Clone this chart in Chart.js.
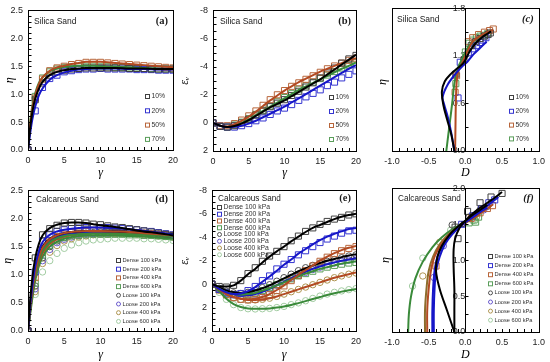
<!DOCTYPE html>
<html><head><meta charset="utf-8">
<script src="https://cdn.jsdelivr.net/npm/chart.js@4.4.1/dist/chart.umd.min.js"></script>
<style>
html,body{margin:0;padding:0;background:#fff;width:550px;height:362px;overflow:hidden;}
canvas{position:absolute;}
</style></head><body>
<canvas id="pa"></canvas><canvas id="pb"></canvas><canvas id="pc"></canvas>
<canvas id="pd"></canvas><canvas id="pe"></canvas><canvas id="pf"></canvas>
<script>
// ---------------- DATA ----------------
const silicaLabels = ['10%', '20%', '50%', '70%'];
const calcLabels = ['Dense 100 kPa','Dense 200 kPa','Dense 400 kPa','Dense 600 kPa','Loose 100 kPa','Loose 200 kPa','Loose 400 kPa','Loose 600 kPa'];
const gammaPts = [0,1,2,3,4,5,6,7,8,9,10,11,12,13,14,15,16,17,18,19,20];

// (a) eta vs gamma, silica
const aGammaLine = [0,0.3,0.6,1,1.5,2,3,4,5,6,7,8,9,10,12,14,16,18,20];
const aLine10 = [0,0.4,0.68,0.92,1.1,1.22,1.34,1.4,1.43,1.45,1.46,1.47,1.47,1.47,1.47,1.46,1.46,1.45,1.45];
const aLine20 = [0,0.3,0.55,0.78,0.98,1.1,1.26,1.34,1.39,1.42,1.44,1.45,1.46,1.46,1.46,1.45,1.45,1.44,1.44];
const aLine50 = [0,0.45,0.75,0.98,1.18,1.3,1.42,1.48,1.51,1.54,1.56,1.58,1.58,1.58,1.56,1.54,1.52,1.5,1.48];
const aLine70 = [0,0.5,0.8,1.02,1.2,1.3,1.41,1.46,1.49,1.5,1.51,1.51,1.51,1.5,1.49,1.48,1.47,1.46,1.45];
const aPts10 = [0,0.9,1.2,1.34,1.4,1.43,1.45,1.46,1.47,1.47,1.47,1.47,1.47,1.47,1.46,1.46,1.46,1.45,1.45,1.45,1.45];
const aPts20 = [0,0.7,1.12,1.28,1.34,1.4,1.42,1.44,1.45,1.45,1.46,1.45,1.45,1.45,1.45,1.44,1.44,1.44,1.43,1.43,1.43];
const aPts50 = [0,0.93,1.27,1.42,1.47,1.5,1.53,1.55,1.57,1.57,1.57,1.56,1.55,1.54,1.53,1.52,1.51,1.5,1.49,1.48,1.47];
const aPts70 = [0,0.96,1.29,1.4,1.45,1.48,1.49,1.5,1.5,1.5,1.49,1.49,1.48,1.48,1.47,1.47,1.46,1.46,1.45,1.45,1.45];

// (b) volumetric strain vs gamma, silica
const bLine10 = [0,0.2,0.3,0.22,0.05,-0.2,-0.5,-0.8,-1.1,-1.35,-1.6,-1.9,-2.2,-2.5,-2.8,-3.1,-3.45,-3.8,-4.15,-4.5,-4.85];
const bLine20 = [0,0.2,0.3,0.28,0.2,0.05,-0.15,-0.4,-0.65,-0.9,-1.15,-1.45,-1.75,-2.05,-2.35,-2.65,-2.95,-3.25,-3.55,-3.85,-4.1];
const bLine50 = [0,0.2,0.25,0.1,-0.15,-0.45,-0.8,-1.2,-1.6,-1.95,-2.3,-2.6,-2.9,-3.15,-3.4,-3.65,-3.85,-4.05,-4.25,-4.45,-4.6];
const bLine70 = [0,0.2,0.3,0.2,0,-0.25,-0.55,-0.85,-1.15,-1.45,-1.75,-2.05,-2.35,-2.6,-2.85,-3.1,-3.35,-3.6,-3.85,-4.05,-4.3];
const bPts10 = [0,0.25,0.3,0.2,0,-0.25,-0.55,-0.85,-1.15,-1.4,-1.65,-1.95,-2.25,-2.55,-2.85,-3.2,-3.55,-3.9,-4.25,-4.55,-4.8];
const bPts20 = [0,0.25,0.3,0.3,0.2,0.05,-0.15,-0.35,-0.6,-0.85,-1.05,-1.3,-1.6,-1.85,-2.1,-2.35,-2.65,-2.9,-3.2,-3.45,-3.7];
const bPts50 = [0,0.2,0.2,0.05,-0.2,-0.5,-0.85,-1.25,-1.65,-2,-2.3,-2.6,-2.85,-3.1,-3.35,-3.6,-3.85,-4.05,-4.25,-4.45,-4.6];
const bPts70 = [0,0.25,0.3,0.15,-0.05,-0.3,-0.6,-0.9,-1.2,-1.5,-1.8,-2.1,-2.4,-2.65,-2.9,-3.15,-3.4,-3.65,-3.9,-4.1,-4.3];

// (c) eta vs D, silica
const cLine10D = [-0.15,-0.19,-0.25,-0.3,-0.32,-0.28,-0.2,-0.1,-0.02,0.06,0.14,0.22,0.3,0.35];
const cLine10E = [0,0.2,0.4,0.58,0.75,0.88,0.97,1.05,1.12,1.26,1.36,1.43,1.48,1.51];
const cLine20D = [-0.15,-0.19,-0.24,-0.29,-0.31,-0.24,-0.12,-0.03,0.03,0.11,0.2,0.29];
const cLine20E = [0,0.22,0.43,0.59,0.68,0.84,0.99,1.08,1.13,1.22,1.3,1.38];
const cLine50D = [-0.14,-0.135,-0.13,-0.12,-0.1,-0.05,0,0.05,0.1,0.2,0.3,0.38];
const cLine50E = [0,0.3,0.6,0.85,1.0,1.1,1.2,1.3,1.38,1.45,1.5,1.53];
const cLine70D = [-0.26,-0.22,-0.18,-0.15,-0.1,-0.05,0,0.05,0.1,0.2,0.3];
const cLine70E = [0,0.3,0.6,0.85,1.05,1.15,1.25,1.33,1.38,1.44,1.48];
const cPts10D = [-0.13,-0.02,0.08,0.14,0.2,0.26,0.31,0.34];
const cPts10E = [0.97,1.15,1.33,1.38,1.42,1.45,1.47,1.49];
const cPts20D = [-0.1,-0.07,0.04,0.1,0.15,0.2,0.24,0.28];
const cPts20E = [0.67,1.12,1.24,1.29,1.33,1.37,1.4,1.43];
const cPts50D = [-0.14,-0.12,0.04,0.1,0.18,0.26,0.33,0.38];
const cPts50E = [0.74,0.95,1.38,1.43,1.47,1.5,1.52,1.54];
const cPts70D = [-0.13,0,0.05,0.1,0.15,0.2,0.25,0.3];
const cPts70E = [0.85,1.25,1.36,1.4,1.43,1.45,1.46,1.48];

// (d) eta vs gamma, calcareous
const dGammaLine = [0,0.3,0.6,1,1.5,2,3,4,5,6,7,8,9,10,12,14,16,18,20];
const dLineD100 = [0,0.55,0.95,1.3,1.55,1.7,1.83,1.89,1.92,1.93,1.93,1.92,1.9,1.88,1.85,1.81,1.77,1.74,1.7];
const dLineD200 = [0,0.45,0.8,1.15,1.42,1.58,1.71,1.77,1.8,1.82,1.83,1.84,1.84,1.84,1.83,1.81,1.78,1.75,1.71];
const dLineD400 = [0,0.4,0.72,1.05,1.32,1.48,1.63,1.7,1.74,1.76,1.77,1.78,1.78,1.78,1.77,1.76,1.74,1.72,1.7];
const dLineD600 = [0,0.35,0.65,0.98,1.25,1.42,1.58,1.65,1.69,1.71,1.72,1.73,1.73,1.73,1.73,1.72,1.71,1.7,1.68];
const dLineL100 = [0,0.4,0.75,1.1,1.35,1.5,1.64,1.7,1.74,1.76,1.77,1.78,1.78,1.78,1.77,1.76,1.75,1.73,1.72];
const dLineL200 = [0,0.38,0.7,1.02,1.28,1.44,1.6,1.67,1.71,1.73,1.75,1.76,1.77,1.77,1.77,1.76,1.75,1.73,1.71];
const dLineL400 = [0,0.35,0.65,0.97,1.22,1.38,1.55,1.63,1.68,1.71,1.73,1.74,1.75,1.75,1.75,1.74,1.73,1.71,1.69];
const dLineL600 = [0,0.3,0.58,0.9,1.15,1.32,1.5,1.59,1.64,1.67,1.69,1.7,1.7,1.7,1.7,1.69,1.68,1.66,1.64];
const dPtsD100 = [0,1.3,1.71,1.82,1.88,1.92,1.93,1.93,1.92,1.9,1.89,1.87,1.85,1.84,1.82,1.8,1.78,1.76,1.74,1.72,1.7];
const dPtsD200 = [0,1.05,1.6,1.72,1.77,1.8,1.82,1.83,1.84,1.84,1.84,1.84,1.83,1.82,1.81,1.8,1.78,1.77,1.75,1.73,1.71];
const dPtsD400 = [0,0.95,1.45,1.6,1.68,1.72,1.75,1.76,1.77,1.78,1.78,1.78,1.77,1.77,1.76,1.75,1.74,1.73,1.72,1.71,1.7];
const dPtsD600 = [0,0.85,1.35,1.52,1.62,1.66,1.69,1.7,1.71,1.72,1.72,1.72,1.72,1.72,1.71,1.71,1.7,1.7,1.69,1.68,1.67];
const dPtsL100 = [0,0.8,1.3,1.5,1.6,1.66,1.7,1.72,1.74,1.75,1.76,1.76,1.76,1.76,1.75,1.75,1.74,1.73,1.72,1.71,1.7];
const dPtsL200 = [0,0.75,1.25,1.45,1.57,1.63,1.67,1.7,1.72,1.73,1.74,1.74,1.75,1.75,1.74,1.74,1.73,1.72,1.71,1.7,1.69];
const dPtsL400 = [0,0.7,1.2,1.4,1.52,1.6,1.64,1.67,1.69,1.71,1.72,1.72,1.73,1.73,1.73,1.72,1.71,1.7,1.69,1.68,1.67];
const dPtsL600 = [0,0.65,1.05,1.25,1.38,1.47,1.53,1.57,1.6,1.62,1.63,1.64,1.65,1.65,1.65,1.65,1.64,1.64,1.63,1.62,1.61];

// (e) volumetric strain vs gamma, calcareous
const eLineD100 = [0,0.2,0.2,0.1,-0.3,-0.85,-1.3,-1.85,-2.35,-2.8,-3.2,-3.65,-4.05,-4.45,-4.8,-5.05,-5.3,-5.55,-5.75,-5.9,-6.0];
const eLineD200 = [0,0.4,0.7,0.85,0.8,0.6,0.25,-0.2,-0.65,-1.15,-1.65,-2.1,-2.6,-3.0,-3.4,-3.75,-4.05,-4.3,-4.5,-4.7,-4.8];
const eLineD400 = [0,0.45,0.85,1.1,1.25,1.3,1.25,1.1,0.85,0.5,0.1,-0.35,-0.8,-1.2,-1.6,-2.0,-2.35,-2.65,-2.9,-3.1,-3.25];
const eLineD600 = [0,0.4,0.7,0.85,0.9,0.85,0.75,0.55,0.35,0.1,-0.15,-0.4,-0.65,-0.9,-1.1,-1.3,-1.45,-1.6,-1.75,-1.85,-1.95];
const eLineL100 = [0,0.3,0.55,0.7,0.75,0.7,0.55,0.35,0.1,-0.2,-0.5,-0.8,-1.1,-1.35,-1.6,-1.8,-2.0,-2.15,-2.3,-2.45,-2.55];
const eLineL200 = [0,0.35,0.65,0.85,0.95,0.95,0.85,0.65,0.4,0.1,-0.2,-0.5,-0.8,-1.05,-1.3,-1.5,-1.7,-1.85,-2.0,-2.1,-2.2];
const eLineL400 = [0,0.45,0.85,1.1,1.25,1.35,1.35,1.3,1.2,1.05,0.85,0.65,0.45,0.25,0.05,-0.15,-0.35,-0.55,-0.7,-0.85,-1.0];
const eLineL600 = [0,0.6,1.25,1.7,1.95,2.07,2.1,2.1,2.07,2.0,1.9,1.78,1.62,1.45,1.27,1.1,0.93,0.78,0.64,0.52,0.42];
const ePtsD100 = [0,0.2,0.25,0.1,-0.3,-0.9,-1.4,-1.95,-2.4,-2.8,-3.2,-3.7,-4.1,-4.5,-4.8,-5.1,-5.35,-5.55,-5.7,-5.9,-6.0];
const ePtsD200 = [0,0.45,0.75,0.9,0.8,0.55,0.2,-0.3,-0.7,-1.3,-1.7,-2.1,-2.5,-2.85,-3.2,-3.55,-3.85,-4.1,-4.35,-4.55,-4.6];
const ePtsD400 = [0,0.5,0.9,1.15,1.3,1.35,1.3,1.15,0.9,0.55,0.15,-0.3,-0.75,-1.15,-1.55,-1.95,-2.3,-2.6,-2.85,-3.05,-3.2];
const ePtsD600 = [0,0.45,0.75,0.9,0.95,0.9,0.75,0.55,0.3,0.05,-0.2,-0.45,-0.7,-0.9,-1.1,-1.3,-1.45,-1.6,-1.7,-1.8,-1.85];
const ePtsL100 = [0,0.35,0.6,0.75,0.8,0.7,0.55,0.3,0.05,-0.25,-0.55,-0.85,-1.15,-1.4,-1.6,-1.8,-1.95,-2.1,-2.25,-2.4,-2.5];
const ePtsL200 = [0,0.4,0.7,0.9,1.0,1.0,0.85,0.65,0.4,0.1,-0.2,-0.5,-0.75,-1.0,-1.25,-1.45,-1.65,-1.8,-1.95,-2.05,-2.15];
const ePtsL400 = [0,0.5,0.9,1.15,1.3,1.35,1.35,1.3,1.2,1.05,0.85,0.65,0.45,0.25,0.05,-0.15,-0.35,-0.55,-0.7,-0.85,-0.95];
const ePtsL600 = [0,0.7,1.3,1.75,2.0,2.1,2.12,2.1,2.07,2.0,1.9,1.75,1.6,1.42,1.22,1.02,0.85,0.7,0.58,0.47,0.38];

// (f) eta vs D, calcareous
const fLineD100D = [-0.15,-0.15,-0.15,-0.16,-0.16,-0.14,-0.08,0,0.1,0.2,0.3,0.4,0.5];
const fLineD100E = [0,0.3,0.6,0.9,1.15,1.3,1.45,1.55,1.65,1.73,1.8,1.87,1.95];
const fLineL100D = [-0.15,-0.25,-0.35,-0.4,-0.38,-0.32,-0.22,-0.1,0,0.1,0.2,0.3];
const fLineL100E = [0,0.3,0.6,0.85,1.05,1.2,1.35,1.47,1.55,1.63,1.7,1.77];
const fLineD200D = [-0.45,-0.45,-0.44,-0.42,-0.38,-0.3,-0.2,-0.1,0,0.1,0.2,0.3,0.4,0.45];
const fLineD200E = [0,0.3,0.6,0.85,1.05,1.22,1.35,1.45,1.53,1.6,1.68,1.76,1.84,1.88];
const fLineL200D = [-0.43,-0.43,-0.42,-0.4,-0.35,-0.28,-0.18,-0.08,0,0.1,0.2,0.3];
const fLineL200E = [0,0.3,0.6,0.85,1.05,1.22,1.36,1.46,1.53,1.6,1.67,1.73];
const fLineD400D = [-0.52,-0.52,-0.5,-0.47,-0.42,-0.33,-0.22,-0.1,0,0.1,0.2,0.3,0.38];
const fLineD400E = [0,0.3,0.6,0.85,1.05,1.22,1.35,1.45,1.52,1.58,1.65,1.72,1.78];
const fLineL400D = [-0.55,-0.55,-0.53,-0.5,-0.44,-0.35,-0.24,-0.12,0,0.1,0.2];
const fLineL400E = [0,0.3,0.6,0.85,1.05,1.22,1.35,1.45,1.52,1.58,1.63];
const fLineD600D = [-0.78,-0.77,-0.74,-0.68,-0.58,-0.45,-0.32,-0.18,-0.05,0.05,0.15];
const fLineD600E = [0,0.25,0.5,0.75,0.98,1.18,1.32,1.43,1.5,1.55,1.6];
const fPtsD100D = [-0.1,-0.14,0.03,0.2,0.35,0.5];
const fPtsD100E = [1.3,1.46,1.68,1.8,1.88,1.93];
const fPtsD200D = [-0.05,0.1,0.22,0.32,0.4];
const fPtsD200E = [1.5,1.62,1.72,1.8,1.84];
const fPtsD400D = [-0.4,0.08,0.2,0.3,0.37];
const fPtsD400E = [0.92,1.58,1.66,1.72,1.76];
const fPtsD600D = [0.05,0.12,0.18,0.14];
const fPtsD600E = [1.52,1.56,1.6,1.53];
const fPtsL100D = [-0.18,0.05,0.2,0.3];
const fPtsL100E = [1.49,1.6,1.7,1.75];
const fPtsL200D = [-0.43,-0.3,0.1,0.25];
const fPtsL200E = [0.76,1.2,1.6,1.7];
const fPtsL400D = [-0.58,-0.35,0.15];
const fPtsL400E = [0.78,1.25,1.6];
const fPtsL600D = [-0.72,-0.58,-0.2,0.1];
const fPtsL600E = [0.64,1.03,1.42,1.55];

// ---------------- STYLE ----------------
const LINE = {k:'#000000', b:'#1616c8', r:'#b24a22', g:'#3a8a3a', o:'#8c6d2c'};
const MARK = {k:'#404040', b:'#3434d0', r:'#b8653a', g:'#5a9e5a', lk:'#505050', lb:'#6a5acd', lo:'#ae9450', lg:'#a2cca2'};
const SANS = "'Liberation Sans', Arial, sans-serif";
const SERIF = "'Liberation Serif', 'Times New Roman', serif";

function pts(xs, ys){ return xs.map((x,i)=>({x:x, y:ys[i]})); }
function lineDS(xs, ys, color, mono){
  return {data:pts(xs,ys), showLine:true, borderColor:color, borderWidth:2, pointRadius:0,
          tension: mono?0:0.35, cubicInterpolationMode: mono?'monotone':'default', fill:false, order:0};
}
function markDS(label, xs, ys, color, style){
  return {label:label, data:pts(xs,ys), showLine:false, borderColor:color, backgroundColor:'rgba(0,0,0,0)',
          pointStyle:style, pointRadius: style==='rect'?4.3:3.2, pointBorderWidth:1, isMark:true, order:1};
}

const deco = {
  id:'deco',
  afterDatasetsDraw(chart, args, o){
    const ctx = chart.ctx, a = chart.chartArea, x = chart.scales.x, y = chart.scales.y;
    ctx.save();
    ctx.strokeStyle = '#000'; ctx.lineWidth = 1;
    ctx.beginPath();
    const nX = Math.round((x.max - x.min)/o.xMinor);
    for (let i=0;i<=nX;i++){ const px = Math.round(x.getPixelForValue(x.min + i*o.xMinor))+0.5; ctx.moveTo(px, a.bottom); ctx.lineTo(px, a.bottom-3); }
    const yx = o.center ? Math.round(x.getPixelForValue(0))+0.5 : Math.round(a.left)+0.5;
    const nY = Math.round((y.max - y.min)/o.yMinor);
    for (let i=0;i<=nY;i++){ const py = Math.round(y.getPixelForValue(y.min + i*o.yMinor))+0.5; ctx.moveTo(yx, py); ctx.lineTo(yx+3, py); }
    if (o.center){ ctx.moveTo(yx, a.top); ctx.lineTo(yx, a.bottom); }
    ctx.stroke();
    ctx.strokeRect(Math.round(a.left)+0.5, Math.round(a.top)+0.5, Math.round(a.right)-Math.round(a.left), Math.round(a.bottom)-Math.round(a.top));
    // panel title & tag
    ctx.fillStyle = '#1a1a1a'; ctx.textBaseline = 'middle';
    ctx.font = o.titleSize + 'px ' + SANS; ctx.textAlign = 'left';
    ctx.fillText(o.title, a.left + o.titleDx, a.top + o.titleDy);
    ctx.font = (o.tagItalic?'italic ':'') + 'bold 10.5px ' + SERIF; ctx.textAlign = 'right';
    ctx.fillText(o.tag, a.right - 5, a.top + o.titleDy);
    // extra y title for centered axis panels
    if (o.yTitle){
      ctx.save(); ctx.translate(o.yTitle.x, o.yTitle.y); ctx.rotate(-Math.PI/2);
      ctx.font = 'italic 12px ' + SERIF; ctx.textAlign = 'center'; ctx.fillStyle = '#000';
      ctx.fillText(o.yTitle.text, 0, 0); ctx.restore();
    }
    // legend
    const L = o.legend;
    let row = 0;
    chart.data.datasets.forEach(ds => {
      if (!ds.isMark) return;
      const yy = L.y + row*L.dy;
      ctx.strokeStyle = ds.borderColor; ctx.lineWidth = 1;
      if (ds.pointStyle === 'rect'){ ctx.strokeRect(L.x-1.5, yy-1.5, 4, 4); }
      else { ctx.beginPath(); ctx.arc(L.x+0.5, yy+0.5, 2, 0, Math.PI*2); ctx.stroke(); }
      ctx.fillStyle = '#333'; ctx.font = L.size + 'px ' + SANS; ctx.textAlign = 'left'; ctx.textBaseline='middle';
      ctx.fillText(ds.label, L.x + 4.5, yy + 0.5);
      row++;
    });
    ctx.restore();
  }
};

function fmt1(v){ return Number(v).toFixed(1); }
function fmt0(v){ return String(Math.round(v)); }

function makePanel(id, rect, area, sc, decoOpts, datasets){
  const cv = document.getElementById(id);
  cv.width = rect.w; cv.height = rect.h;
  cv.style.left = rect.x + 'px'; cv.style.top = rect.y + 'px';
  cv.style.width = rect.w + 'px'; cv.style.height = rect.h + 'px';
  const yW = area.l - rect.x, xH = rect.y + rect.h - area.b;
  const tickFont = {family: SANS, size: 9};
  const scales = {
    x: {type:'linear', min:sc.xmin, max:sc.xmax,
        ticks:{stepSize:sc.xstep, font:tickFont, color:'#222', padding:5, maxRotation:0, autoSkip:false, callback: sc.xfmt},
        grid:{display:false, drawTicks:false}, border:{display:false},
        title:{display:true, text:sc.xtitle, font:{family:SERIF, style:'italic', size:12}, color:'#000', padding:{top:0,bottom:sc.xtpad}},
        afterFit(s){ s.height = xH; }},
    y: {type:'linear', min:sc.ymin, max:sc.ymax, reverse: !!sc.reverse,
        position: sc.center ? {x:0} : 'left',
        ticks:{stepSize:sc.ystep, font:tickFont, color:'#222', padding:sc.center?3:5, autoSkip:false, callback: sc.yfmt},
        grid:{display:false, drawTicks:false}, border:{display:false},
        title:{display: !sc.center, text:sc.ytitle, font:{family:SERIF, style:'italic', size:12}, color:'#000', padding:{top:sc.ytpad, bottom:0}},
        afterFit(s){ if (!sc.center) s.width = yW; }}
  };
  return new Chart(cv, {
    type:'scatter',
    data:{datasets: datasets},
    options:{
      responsive:false, animation:false, devicePixelRatio:1,
      layout:{padding:{left: sc.center ? yW : 0, top: area.t - rect.y, right: rect.x + rect.w - area.r, bottom:0}},
      plugins:{legend:{display:false}, tooltip:{enabled:false}, deco: decoOpts},
      scales: scales
    },
    plugins:[deco]
  });
}

// ---- panel (a)
makePanel('pa', {x:0,y:0,w:183,h:180}, {l:28,t:7,r:177,b:150},
  {xmin:0,xmax:20,xstep:5,ymin:0,ymax:2.5,ystep:0.5,xfmt:fmt0,yfmt:fmt1,xtitle:'γ',ytitle:'η',xtpad:0,ytpad:3},
  {xMinor:1,yMinor:0.1,title:'Silica Sand',titleSize:8.5,titleDx:6,titleDy:11,tag:'(a)',legend:{x:147,y:96,dy:14.3,size:6.8}},
  [
    lineDS(aGammaLine,aLine10,LINE.k,true), lineDS(aGammaLine,aLine20,LINE.b,true),
    lineDS(aGammaLine,aLine50,LINE.r,true), lineDS(aGammaLine,aLine70,LINE.g,true),
    markDS(silicaLabels[0],gammaPts,aPts10,MARK.k,'rect'), markDS(silicaLabels[1],gammaPts,aPts20,MARK.b,'rect'),
    markDS(silicaLabels[2],gammaPts,aPts50,MARK.r,'rect'), markDS(silicaLabels[3],gammaPts,aPts70,MARK.g,'rect')
  ]);

// ---- panel (b)
makePanel('pb', {x:176,y:0,w:190,h:180}, {l:213,t:7,r:361,b:151},
  {xmin:0,xmax:20,xstep:5,ymin:-8,ymax:2,ystep:2,reverse:true,xfmt:fmt0,yfmt:fmt0,xtitle:'γ',ytitle:'εᵥ',xtpad:0,ytpad:2},
  {xMinor:1,yMinor:0.5,title:'Silica Sand',titleSize:8.5,titleDx:7,titleDy:11,tag:'(b)',legend:{x:155,y:97,dy:14,size:6.8}},
  [
    lineDS(gammaPts,bLine10,LINE.k,true), lineDS(gammaPts,bLine20,LINE.b,true),
    lineDS(gammaPts,bLine50,LINE.r,true), lineDS(gammaPts,bLine70,LINE.g,true),
    markDS(silicaLabels[0],gammaPts,bPts10,MARK.k,'rect'), markDS(silicaLabels[1],gammaPts,bPts20,MARK.b,'rect'),
    markDS(silicaLabels[2],gammaPts,bPts50,MARK.r,'rect'), markDS(silicaLabels[3],gammaPts,bPts70,MARK.g,'rect')
  ]);

// ---- panel (c)
makePanel('pc', {x:366,y:0,w:184,h:180}, {l:392,t:7,r:539,b:151},
  {xmin:-1,xmax:1,xstep:0.5,ymin:0,ymax:1.8,ystep:0.6,center:true,xfmt:fmt1,yfmt:fmt1,xtitle:'D',ytitle:'η',xtpad:0,ytpad:0},
  {xMinor:0.1,yMinor:0.3,center:true,title:'Silica Sand',titleSize:8.5,titleDx:5,titleDy:11,tag:'(c)',tagItalic:true,
   yTitle:{text:'η',x:17,y:82},legend:{x:145,y:97,dy:13.8,size:6.8}},
  [
    lineDS(cLine10D,cLine10E,LINE.k,false), lineDS(cLine20D,cLine20E,LINE.b,false),
    lineDS(cLine50D,cLine50E,LINE.r,false), lineDS(cLine70D,cLine70E,LINE.g,false),
    markDS(silicaLabels[0],cPts10D,cPts10E,MARK.k,'rect'), markDS(silicaLabels[1],cPts20D,cPts20E,MARK.b,'rect'),
    markDS(silicaLabels[2],cPts50D,cPts50E,MARK.r,'rect'), markDS(silicaLabels[3],cPts70D,cPts70E,MARK.g,'rect')
  ]);

// ---- panel (d)
makePanel('pd', {x:0,y:180,w:183,h:182}, {l:28,t:186,r:177,b:331},
  {xmin:0,xmax:20,xstep:5,ymin:0,ymax:2.5,ystep:0.5,xfmt:fmt0,yfmt:fmt1,xtitle:'γ',ytitle:'η',xtpad:0,ytpad:1},
  {xMinor:1,yMinor:0.1,title:'Calcareous Sand',titleSize:8.2,titleDx:8,titleDy:9,tag:'(d)',legend:{x:118,y:80,dy:8.7,size:5.7}},
  [
    lineDS(dGammaLine,dLineD100,LINE.k,true), lineDS(dGammaLine,dLineD200,LINE.b,true),
    lineDS(dGammaLine,dLineD400,LINE.r,true), lineDS(dGammaLine,dLineD600,LINE.g,true),
    lineDS(dGammaLine,dLineL100,LINE.k,true), lineDS(dGammaLine,dLineL200,LINE.b,true),
    lineDS(dGammaLine,dLineL400,LINE.r,true), lineDS(dGammaLine,dLineL600,LINE.g,true),
    markDS(calcLabels[0],gammaPts,dPtsD100,MARK.k,'rect'), markDS(calcLabels[1],gammaPts,dPtsD200,MARK.b,'rect'),
    markDS(calcLabels[2],gammaPts,dPtsD400,MARK.r,'rect'), markDS(calcLabels[3],gammaPts,dPtsD600,MARK.g,'rect'),
    markDS(calcLabels[4],gammaPts,dPtsL100,MARK.lk,'circle'), markDS(calcLabels[5],gammaPts,dPtsL200,MARK.lb,'circle'),
    markDS(calcLabels[6],gammaPts,dPtsL400,MARK.lo,'circle'), markDS(calcLabels[7],gammaPts,dPtsL600,MARK.lg,'circle')
  ]);

// ---- panel (e)
makePanel('pe', {x:176,y:180,w:190,h:182}, {l:212,t:186,r:361,b:331},
  {xmin:0,xmax:20,xstep:5,ymin:-8,ymax:4,ystep:2,reverse:true,xfmt:fmt0,yfmt:fmt0,xtitle:'γ',ytitle:'εᵥ',xtpad:0,ytpad:2},
  {xMinor:1,yMinor:0.5,title:'Calcareous Sand',titleSize:8.2,titleDx:6,titleDy:8,tag:'(e)',legend:{x:43,y:27,dy:6.75,size:6.8}},
  [
    lineDS(gammaPts,eLineD100,LINE.k,true), lineDS(gammaPts,eLineD200,LINE.b,true),
    lineDS(gammaPts,eLineD400,LINE.r,true), lineDS(gammaPts,eLineD600,LINE.g,true),
    lineDS(gammaPts,eLineL100,LINE.k,true), lineDS(gammaPts,eLineL200,LINE.b,true),
    lineDS(gammaPts,eLineL400,LINE.r,true), lineDS(gammaPts,eLineL600,LINE.g,true),
    markDS(calcLabels[0],gammaPts,ePtsD100,MARK.k,'rect'), markDS(calcLabels[1],gammaPts,ePtsD200,MARK.b,'rect'),
    markDS(calcLabels[2],gammaPts,ePtsD400,MARK.r,'rect'), markDS(calcLabels[3],gammaPts,ePtsD600,MARK.g,'rect'),
    markDS(calcLabels[4],gammaPts,ePtsL100,MARK.lk,'circle'), markDS(calcLabels[5],gammaPts,ePtsL200,MARK.lb,'circle'),
    markDS(calcLabels[6],gammaPts,ePtsL400,MARK.lo,'circle'), markDS(calcLabels[7],gammaPts,ePtsL600,MARK.lg,'circle')
  ]);

// ---- panel (f)
makePanel('pf', {x:366,y:180,w:184,h:182}, {l:392,t:186,r:540,b:332},
  {xmin:-1,xmax:1,xstep:0.5,ymin:0,ymax:2,ystep:0.5,center:true,xfmt:fmt1,yfmt:fmt1,xtitle:'D',ytitle:'η',xtpad:0,ytpad:0},
  {xMinor:0.1,yMinor:0.25,center:true,title:'Calcareous Sand',titleSize:8.2,titleDx:6,titleDy:10,tag:'(f)',tagItalic:true,
   yTitle:{text:'η',x:20,y:80},legend:{x:124,y:76,dy:9.1,size:5.7}},
  [
    lineDS(fLineD100D,fLineD100E,LINE.k,false), lineDS(fLineL100D,fLineL100E,LINE.k,false),
    lineDS(fLineD200D,fLineD200E,LINE.b,false), lineDS(fLineL200D,fLineL200E,LINE.b,false),
    lineDS(fLineD400D,fLineD400E,LINE.r,false), lineDS(fLineL400D,fLineL400E,LINE.o,false),
    lineDS(fLineD600D,fLineD600E,LINE.g,false),
    markDS(calcLabels[0],fPtsD100D,fPtsD100E,MARK.k,'rect'), markDS(calcLabels[1],fPtsD200D,fPtsD200E,MARK.b,'rect'),
    markDS(calcLabels[2],fPtsD400D,fPtsD400E,MARK.r,'rect'), markDS(calcLabels[3],fPtsD600D,fPtsD600E,MARK.g,'rect'),
    markDS(calcLabels[4],fPtsL100D,fPtsL100E,MARK.lk,'circle'), markDS(calcLabels[5],fPtsL200D,fPtsL200E,MARK.lb,'circle'),
    markDS(calcLabels[6],fPtsL400D,fPtsL400E,MARK.lo,'circle'), markDS(calcLabels[7],fPtsL600D,fPtsL600E,MARK.lg,'circle')
  ]);
</script>
</body></html>
